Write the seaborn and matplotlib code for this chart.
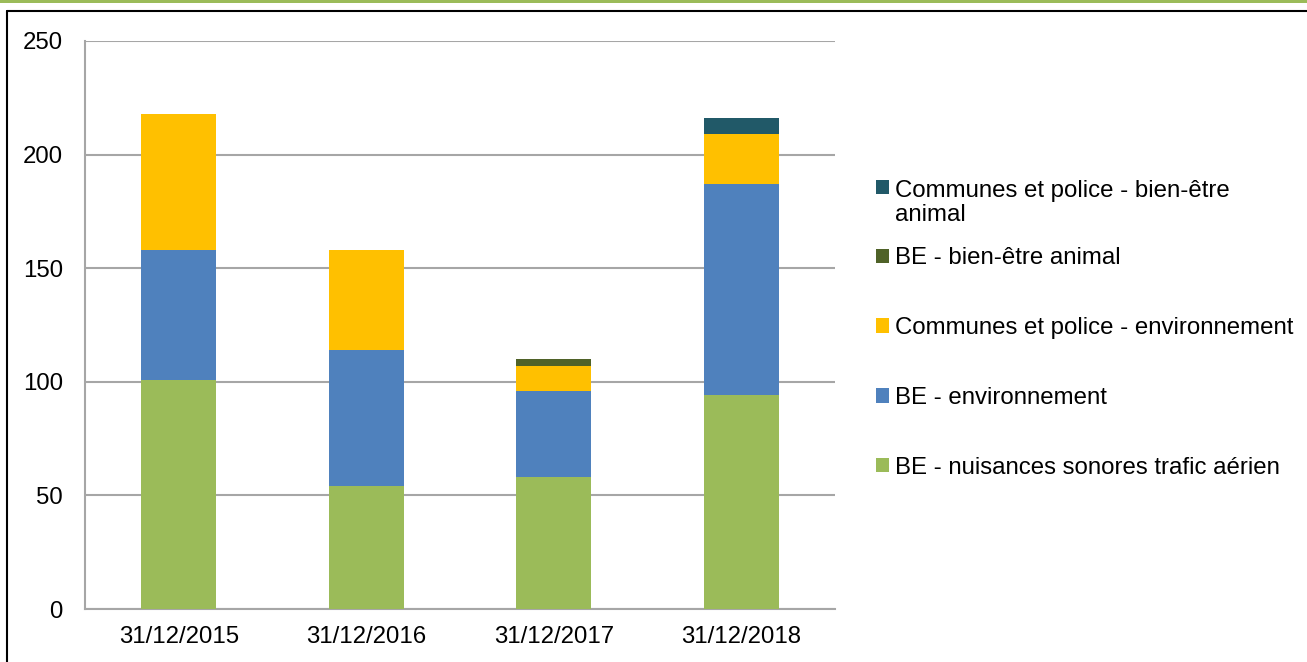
import matplotlib.pyplot as plt
import numpy as np
import pandas as pd
import seaborn as sns
from matplotlib.lines import Line2D
from matplotlib.patches import Patch, Rectangle

dates = ["31/12/2015", "31/12/2016", "31/12/2017", "31/12/2018"]
be_bruit = [101, 54, 58, 94]
be_env = [57, 60, 38, 93]
communes_env = [60, 44, 11, 22]
be_animal = [0, 0, 3, 0]
communes_animal = [0, 0, 0, 7]

series_names = [
    "BE - nuisances sonores trafic aérien",
    "BE - environnement",
    "Communes et police - environnement",
    "BE - bien-être animal",
    "Communes et police - bien-être\nanimal",
]
colors = ["#9bbb59", "#4f81bd", "#ffc000", "#4f6228", "#215968"]

FS = 17.3


def add_legend(fig, handles, labels, y_px, loc, spacing):
    leg = fig.legend(
        handles,
        labels,
        loc=loc,
        bbox_to_anchor=(876 / 1307, 1 - y_px / 662),
        frameon=False,
        fontsize=FS,
        labelcolor="black",
        handlelength=0.55,
        handleheight=0.55,
        handletextpad=0.22,
        labelspacing=spacing,
        borderpad=0,
        borderaxespad=0,
    )
    return leg


def make_plot(out_path):
    sns.set_theme(style="white")
    plt.rcParams["font.family"] = ["Liberation Sans", "DejaVu Sans"]

    df = pd.DataFrame(
        {
            "date": dates,
            series_names[0]: be_bruit,
            series_names[1]: be_env,
            series_names[2]: communes_env,
            series_names[3]: be_animal,
            series_names[4]: communes_animal,
        }
    )

    fig = plt.figure(figsize=(13.07, 6.62), dpi=100)
    ax = fig.add_axes([85 / 1307, 1 - 609 / 662, 750 / 1307, 568 / 662])

    # stacked bars, one seaborn call per series
    bottom = np.zeros(len(dates))
    for name, color in zip(series_names, colors):
        sns.barplot(
            data=df,
            x="date",
            y=name,
            order=dates,
            bottom=bottom,
            color=color,
            width=0.4,
            saturation=1,
            edgecolor="none",
            ax=ax,
            zorder=3,
        )
        bottom = bottom + df[name].to_numpy()

    ax.set_xlim(-0.5, 3.5)
    ax.set_ylim(0, 250)
    ax.set_yticks(np.arange(0, 251, 50))
    ax.yaxis.grid(True, color="#a6a6a6", linewidth=1.5, zorder=0)
    ax.set_axisbelow(True)
    ax.set_xlabel("")
    ax.set_ylabel("")
    for side in ["top", "right"]:
        ax.spines[side].set_visible(False)
    for side in ["left", "bottom"]:
        ax.spines[side].set_color("#a6a6a6")
        ax.spines[side].set_linewidth(1.5)
    ax.tick_params(axis="y", length=0, pad=16, labelsize=FS, labelcolor="black")
    ax.tick_params(axis="x", length=0, pad=12, labelsize=FS, labelcolor="black")

    handles = [Patch(facecolor=c, edgecolor="none") for c in colors]
    # the wrapped first entry gets its own legend, the rest are evenly spaced
    leg1 = add_legend(fig, handles[4:], series_names[4:], 180, "upper left", 1.0)
    leg1.get_texts()[0].set_linespacing(1.1)
    for col in leg1._legend_handle_box.get_children():
        for item in col.get_children():
            item.align = "top"
    add_legend(fig, handles[3::-1], series_names[3::-1], 363, "center left", 1.99)

    # outer frame and green band at the top
    fig.add_artist(Rectangle((0, 1 - 3 / 662), 1, 3 / 662, transform=fig.transFigure,
                             facecolor="#9bbb59", edgecolor="none"))
    fig.add_artist(Line2D([7 / 1307, 1], [1 - 10.5 / 662, 1 - 10.5 / 662],
                          transform=fig.transFigure, color="black", linewidth=1.5))
    fig.add_artist(Line2D([7 / 1307, 7 / 1307], [0, 1 - 10.5 / 662],
                          transform=fig.transFigure, color="black", linewidth=1.5))

    fig.savefig(out_path, dpi=100)


if __name__ == "__main__":
    make_plot("out.png")
